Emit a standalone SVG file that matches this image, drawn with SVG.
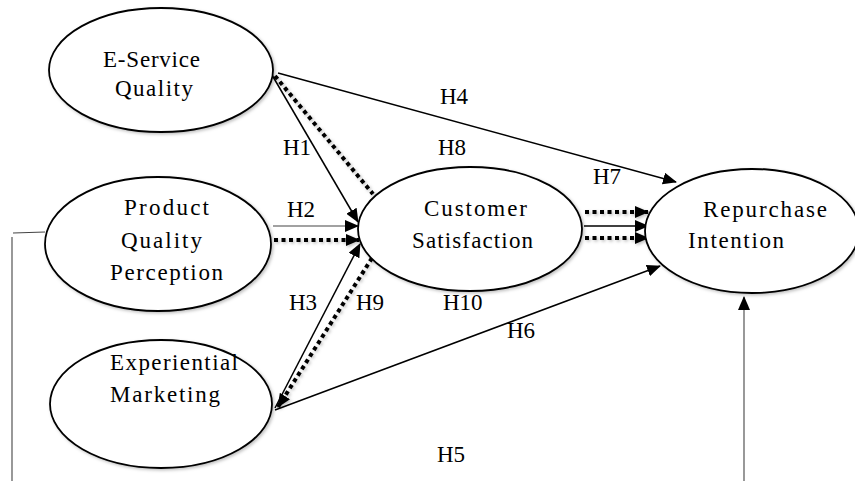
<svg xmlns="http://www.w3.org/2000/svg" width="855" height="481" viewBox="0 0 855 481">
<defs>
<style>
.n{fill:#fff;stroke:#000;stroke-width:1.8;filter:url(#sh)}
.t{font-family:"Liberation Serif","Times New Roman",serif;font-size:23px;fill:#000}
.s{fill:none;stroke:#000;stroke-width:1.5}
.thin{fill:none;stroke:#444;stroke-width:1.1}
.d{fill:none;stroke:#000;stroke-width:4;stroke-dasharray:4 3.5;filter:url(#sh)}
</style>
<filter id="sh" filterUnits="userSpaceOnUse" x="0" y="0" width="855" height="481">
<feDropShadow dx="1.5" dy="1.5" stdDeviation="1.5" flood-color="#000" flood-opacity="0.25"/>
</filter>
<marker id="a" markerUnits="userSpaceOnUse" markerWidth="14" markerHeight="12" refX="13" refY="6" orient="auto">
<path d="M0,0 L14,6 L0,12 Z" fill="#000"/>
</marker>
</defs>
<g id="connectors">
<line class="s" x1="278" y1="73" x2="676" y2="182" marker-end="url(#a)"/>
<line class="s" x1="272" y1="75" x2="358" y2="222" marker-end="url(#a)"/>
<line class="d" x1="275" y1="76" x2="373" y2="194"/>
<line class="thin" x1="273" y1="226" x2="358" y2="226" marker-end="url(#a)"/>
<line class="d" x1="274" y1="240" x2="359" y2="240" marker-end="url(#a)"/>
<line class="s" x1="275" y1="408" x2="360" y2="244" marker-end="url(#a)"/>
<line class="d" x1="372" y1="258" x2="278" y2="407" marker-end="url(#a)"/>
<line class="s" x1="275" y1="410" x2="660" y2="266" marker-end="url(#a)"/>
<line class="d" x1="585" y1="212" x2="648" y2="212" marker-end="url(#a)"/>
<line class="s" x1="584" y1="226" x2="648" y2="226" marker-end="url(#a)"/>
<line class="d" x1="585" y1="238" x2="648" y2="238" marker-end="url(#a)"/>
<polyline class="thin" points="45,232 13,233"/>
<line class="thin" x1="12" y1="237" x2="12" y2="481"/>
<line class="thin" x1="744" y1="481" x2="744" y2="297" marker-end="url(#a)"/>
</g>
<g id="esq">
<ellipse class="n" cx="161" cy="70" rx="112" ry="62"/>
<text class="t" x="103" y="67" textLength="97" lengthAdjust="spacing">E-Service</text>
<text class="t" x="115" y="96" textLength="78" lengthAdjust="spacing">Quality</text>
</g>
<g id="pqp">
<ellipse class="n" cx="158" cy="244" rx="113" ry="67"/>
<text class="t" x="124" y="215" textLength="85" lengthAdjust="spacing">Product</text>
<text class="t" x="121" y="248" textLength="81" lengthAdjust="spacing">Quality</text>
<text class="t" x="110" y="280" textLength="113" lengthAdjust="spacing">Perception</text>
</g>
<g id="em">
<ellipse class="n" cx="161" cy="404" rx="111" ry="64"/>
<text class="t" x="110" y="370" textLength="128" lengthAdjust="spacing">Experiential</text>
<text class="t" x="110" y="402" textLength="110" lengthAdjust="spacing">Marketing</text>
</g>
<g id="cs">
<ellipse class="n" cx="470" cy="229" rx="112" ry="62"/>
<text class="t" x="424" y="216" textLength="103" lengthAdjust="spacing">Customer</text>
<text class="t" x="412" y="248" textLength="121" lengthAdjust="spacing">Satisfaction</text>
</g>
<g id="ri">
<ellipse class="n" cx="752" cy="231" rx="107" ry="62"/>
<text class="t" x="703" y="217" textLength="124" lengthAdjust="spacing">Repurchase</text>
<text class="t" x="688" y="248" textLength="96" lengthAdjust="spacing">Intention</text>
</g>
<g id="labels">
<text class="t" x="440" y="104">H4</text>
<text class="t" x="283" y="155">H1</text>
<text class="t" x="438" y="155">H8</text>
<text class="t" x="593" y="184">H7</text>
<text class="t" x="287" y="217">H2</text>
<text class="t" x="289" y="310">H3</text>
<text class="t" x="356" y="310">H9</text>
<text class="t" x="443" y="310">H10</text>
<text class="t" x="507" y="338">H6</text>
<text class="t" x="437" y="462">H5</text>
</g>
</svg>
